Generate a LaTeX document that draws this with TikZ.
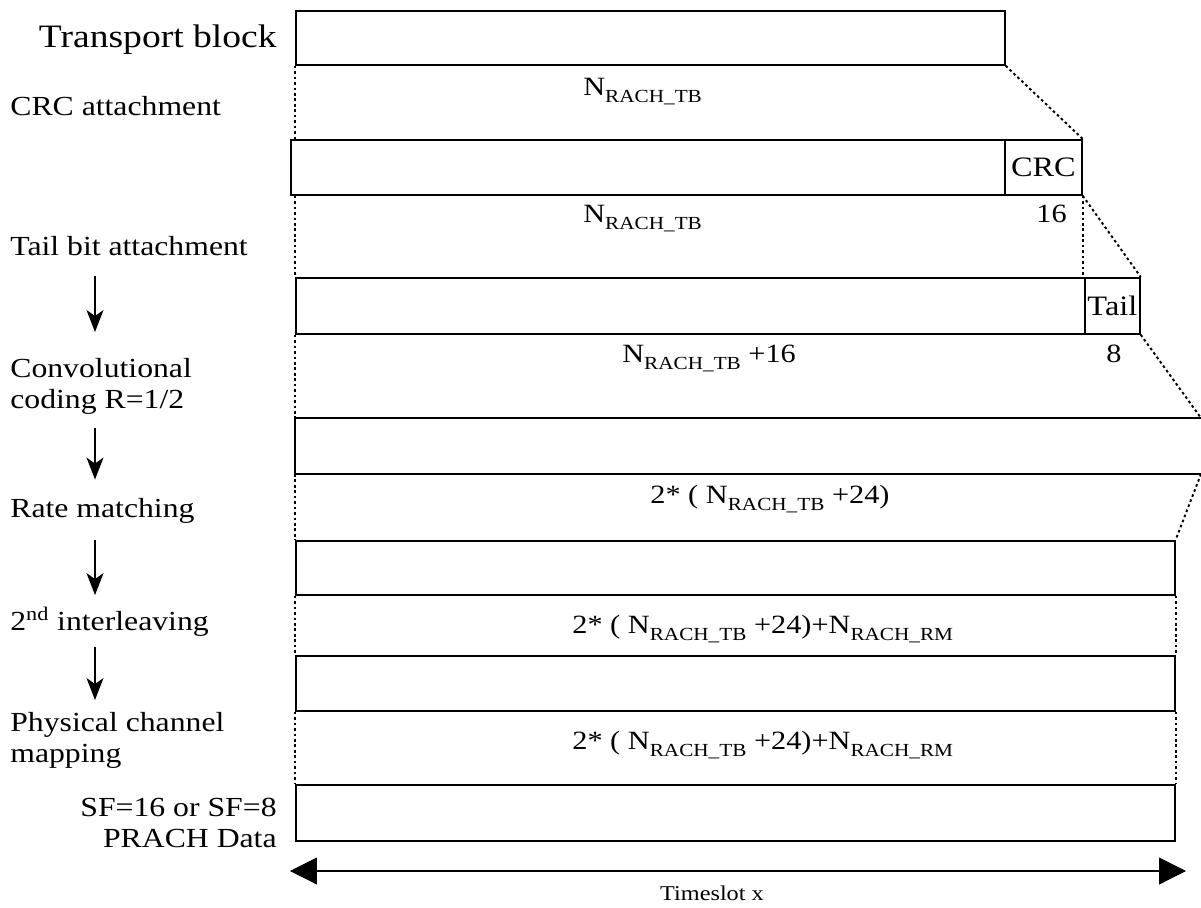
\documentclass[tikz,border=0pt]{standalone}
\usepackage{fontspec}
\setmainfont[FakeStretch=1.15]{Liberation Serif}
\usetikzlibrary{arrows.meta}
\newcommand{\Nrach}[1]{N\raisebox{-4.5pt}{\fontsize{10.5}{12}\selectfont RACH\_#1}}

\begin{document}
\begin{tikzpicture}[x=0.02cm,y=-0.02cm,
  blk/.style 2 args={draw,line width=1pt,inner sep=0pt,anchor=north west,
    minimum width=#1,minimum height=#2,font=\fontsize{16}{18}\selectfont},
  link/.style={line width=1.1pt,dash pattern=on 1.5pt off 1.6pt},
  stagelbl/.style={inner sep=0pt,font=\fontsize{15.7}{17.6}\selectfont},
  sizelbl/.style={inner sep=0pt,anchor=base west,font=\fontsize{15}{17}\selectfont},
  flow/.style={-{Stealth[length=0.44cm,width=0.34cm,inset=0.12cm]},line width=0.7pt}]
  \useasboundingbox (0,0) rectangle (1201,907);

  \node[stagelbl,anchor=base east,font=\fontsize{18.6}{20}\selectfont] (lab-tb) at (277,47) {Transport block};
  \node[stagelbl,anchor=base west] (lab-crc) at (10,115) {CRC attachment};
  \node[stagelbl,anchor=base west] (lab-tail) at (10,255) {Tail bit attachment};
  \node[stagelbl,anchor=north west,align=left] (lab-conv) at (10,358) {Convolutional\\coding R=1/2};
  \node[stagelbl,anchor=base west] (lab-rate) at (10,517) {Rate matching};
  \node[stagelbl,anchor=base west] (lab-il) at (10,630) {2\textsuperscript{nd} interleaving};
  \node[stagelbl,anchor=north west,align=left] (lab-phys) at (10,712) {Physical channel\\mapping};
  \node[stagelbl,anchor=north east,align=right] (lab-sf) at (277,798) {SF=16 or SF=8\\PRACH Data};

  \coordinate (ax) at (95,0);
  \foreach \a/\b/\s/\e in {tail/conv/0.4cm/0.52cm, conv/rate/0.26cm/0.36cm,
                           rate/il/0.34cm/0.24cm, il/phys/0.22cm/0.24cm}
    \draw[flow,shorten <=\s,shorten >=\e] (ax |- lab-\a.south) -- (ax |- lab-\b.north);

  \node[blk={14.18cm}{1.08cm}] (tb) at (295,10) {};
  \node[blk={14.28cm}{1.1cm}] (crcd) at (290,139) {};
  \node[blk={1.54cm}{1.1cm}] (crc) at (1004,139) {CRC};
  \node[blk={15.78cm}{1.12cm}] (taild) at (295,277) {};
  \node[blk={1.1cm}{1.12cm}] (tail) at (1084,277) {Tail};
  \coordinate (conv-tl) at (295,418);
  \coordinate (conv-tr) at (1201,418);
  \coordinate (conv-bl) at (295,474);
  \coordinate (conv-br) at (1201,474);
  \draw[line width=1pt] (conv-tr) -- (conv-tl) -- (conv-bl) -- (conv-br);
  \node[blk={17.58cm}{1.08cm}] (rm) at (295,540) {};
  \node[blk={17.58cm}{1.1cm}] (il) at (295,655) {};
  \node[blk={17.58cm}{1.12cm}] (prach) at (295,784) {};

  \draw[link] (tb.south west) -- (tb.south west |- crcd.north);
  \draw[link] (tb.south east) -- (crc.north east);
  \draw[link] (taild.north west |- crcd.south) -- (taild.north west);
  \draw[link] (crc.south east) -- (crc.south east |- taild.north);
  \draw[link] (crc.south east) -- (tail.north east);
  \draw[link] (taild.south west) -- (conv-tl);
  \draw[link] (tail.south east) -- (conv-tr);
  \draw[link] (conv-bl) -- (rm.north west);
  \draw[link] (conv-br) -- (rm.north east);
  \draw[link] (rm.south west) -- (il.north west);
  \draw[link] (rm.south east) -- (il.north east);
  \draw[link] (il.south west) -- (prach.north west);
  \draw[link] (il.south east) -- (prach.north east);

  \node[sizelbl] (sz-tb) at (583,95) {\Nrach{TB}};
  \node[sizelbl] (sz-crcd) at (583,222) {\Nrach{TB}};
  \node[sizelbl] (sz-crc) at (1036,222) {16};
  \node[sizelbl] (sz-taild) at (622,362) {\Nrach{TB} +16};
  \node[sizelbl] (sz-tail) at (1106,362) {8};
  \node[sizelbl] (sz-conv) at (650,503) {2* ( \Nrach{TB} +24)};
  \node[sizelbl] (sz-rm) at (572,633) {2* ( \Nrach{TB} +24)+\Nrach{RM}};
  \node[sizelbl] (sz-il) at (572,749) {2* ( \Nrach{TB} +24)+\Nrach{RM}};

  \coordinate (ts-l) at (290,871);
  \coordinate (ts-r) at (1186,871);
  \draw[{Triangle[length=0.54cm,width=0.54cm]}-{Triangle[length=0.54cm,width=0.54cm]},line width=0.6pt] (ts-l) -- (ts-r);
  \node[inner sep=0pt,font=\fontsize{12}{14}\selectfont] (ts) at (712,893) {Timeslot x};
\end{tikzpicture}
\end{document}
